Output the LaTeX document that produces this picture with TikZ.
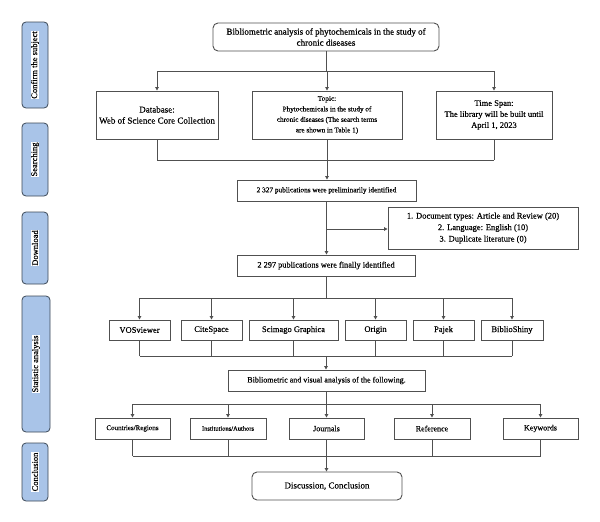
\documentclass[tikz,border=0pt]{standalone}
\usepackage{fontspec}
\setmainfont{Liberation Serif}[FakeBold=0.35]
\usetikzlibrary{arrows.meta}
\definecolor{sideblue}{HTML}{A9C4E8}
\definecolor{sideedge}{HTML}{3C4856}
\definecolor{linegray}{HTML}{505050}
\tikzset{
  box/.style={draw=linegray, line width=0.9pt, fill=white, inner sep=1pt, align=center, text=black},
  rbox/.style={box, rounded corners=5pt},
  side/.style={draw=sideedge, line width=0.8pt, fill=sideblue, rounded corners=4pt},
  sidetext/.style={fill=white, inner sep=0.6pt, rotate=90, font=\fontsize{8.5}{9}\selectfont},
  conn/.style={draw=linegray, line width=0.9pt},
  arr/.style={conn, -{Triangle[width=3.5pt,length=3.5pt]}},
}
\begin{document}
\begin{tikzpicture}[x=1pt,y=-1pt]
\useasboundingbox (0,0) rectangle (600,522);
% side labels
\node[side, minimum width=26pt, minimum height=86pt] (s1) at (35,65) {};
\node[sidetext] (t1) at (s1.center) {Confirm the subject};
\node[side, minimum width=26pt, minimum height=73pt] (s2) at (35,159.5) {};
\node[sidetext] (t2) at (s2.center) {Searching};
\node[side, minimum width=26pt, minimum height=72pt] (s3) at (35,248) {};
\node[sidetext] (t3) at (s3.center) {Download};
\node[side, minimum width=28pt, minimum height=136pt] (s4) at (36,364) {};
\node[sidetext] (t4) at (s4.center) {Statistic analysis};
\node[side, minimum width=26pt, minimum height=58pt] (s5) at (35,472) {};
\node[sidetext] (t5) at (s5.center) {Conclusion};

% title
\node[rbox, minimum width=226pt, minimum height=28pt, font=\fontsize{9}{11}\selectfont] (title) at (326,37)
  {Bibliometric analysis of phytochemicals in the study of\\chronic diseases};
% second row
\node[box, minimum width=122pt, minimum height=48pt, font=\fontsize{9}{11}\selectfont] (db) at (157,115)
  {Database:\\Web of Science Core Collection};
\node[box, minimum width=150pt, minimum height=48pt, font=\fontsize{7.2}{10.5}\selectfont] (topic) at (327,115)
  {Topic:\\Phytochemicals in the study of\\chronic diseases (The search terms\\are shown in Table 1)};
\node[box, minimum width=116pt, minimum height=48pt, font=\fontsize{8.5}{11}\selectfont] (ts) at (494,115)
  {Time Span:\\The library will be built until\\April 1, 2023};
% identified
\node[box, minimum width=179pt, minimum height=21pt, font=\fontsize{7.3}{9}\selectfont] (pre) at (326.5,190.5)
  {2 327 publications were preliminarily identified};
\node[box, minimum width=190pt, minimum height=42pt, font=\fontsize{8.5}{11.5}\selectfont] (excl) at (483,228)
  {1. Document types: Article and Review (20)\\2. Language: English (10)\\3. Duplicate literature (0)};
\node[box, minimum width=178pt, minimum height=21pt, font=\fontsize{8.3}{10}\selectfont] (fin) at (326,265.5)
  {2 297 publications were finally identified};
% tools
\tikzset{tool/.style={box, minimum width=61pt, minimum height=20pt, font=\fontsize{8.5}{10}\selectfont}}
\node[tool] (vos) at (139.5,330) {VOSviewer};
\node[tool] (cite) at (211.5,330) {CiteSpace};
\node[tool, minimum width=89pt] (sci) at (293.5,330) {Scimago Graphica};
\node[tool] (ori) at (375.5,330) {Origin};
\node[tool] (paj) at (443.5,330) {Pajek};
\node[tool, minimum width=62pt] (bib) at (512,330) {BiblioShiny};
% analysis
\node[box, minimum width=197pt, minimum height=21pt, font=\fontsize{8}{10}\selectfont] (ana) at (326.5,380.5)
  {Bibliometric and visual analysis of the following.};
% categories
\tikzset{cat/.style={box, minimum width=75pt, minimum height=21pt, font=\fontsize{8}{10}\selectfont}}
\node[cat, font=\fontsize{7}{9}\selectfont] (cou) at (132.5,428.5) {Countries/Regions};
\node[cat, minimum width=76pt, font=\fontsize{6.5}{9}\selectfont] (ins) at (228,428.5) {Institutions/Authors};
\node[cat] (jou) at (326.5,428.5) {Journals};
\node[cat, minimum width=76pt] (ref) at (432,428.5) {Reference};
\node[cat] (key) at (540.5,428.5) {Keywords};
% discussion
\node[rbox, minimum width=150pt, minimum height=28pt, font=\fontsize{9}{11}\selectfont] (disc) at (327,486)
  {Discussion, Conclusion};

% connectors
\coordinate (j1) at (326,71);
\draw[conn] (title.south) -- (title.south |- j1);
\draw[conn] (db.north |- j1) -- (ts.north |- j1);
\draw[arr] (db.north |- j1) -- (db.north);
\draw[arr] (topic.north |- j1) -- (topic.north);
\draw[arr] (ts.north |- j1) -- (ts.north);
\coordinate (j2) at (326,160);
\draw[conn] (db.south) -- (db.south |- j2);
\draw[conn] (ts.south) -- (ts.south |- j2);
\draw[conn] (db.south |- j2) -- (ts.south |- j2);
\draw[arr] (topic.south) -- (topic.south |- pre.north);
\coordinate (j3) at (326,229);
\draw[arr] (pre.south) -- (pre.south |- fin.north);
\draw[arr] (j3) -- (excl.west |- j3);
\coordinate (j4) at (326,298);
\draw[conn] (fin.south) -- (fin.south |- j4);
\draw[conn] (vos.north |- j4) -- (bib.north |- j4);
\foreach \n in {vos,cite,sci,ori,paj,bib}{\draw[arr] (\n.north |- j4) -- (\n.north);}
\coordinate (j5) at (326,356);
\foreach \n in {vos,cite,sci,ori,paj,bib}{\draw[conn] (\n.south) -- (\n.south |- j5);}
\draw[conn] (vos.south |- j5) -- (bib.south |- j5);
\draw[arr] (j5) -- (ana.north -| j5);
\coordinate (j6) at (326,404);
\draw[conn] (ana.south -| j6) -- (j6);
\draw[conn] (cou.north |- j6) -- (key.north |- j6);
\foreach \n in {cou,ins,jou,ref,key}{\draw[arr] (\n.north |- j6) -- (\n.north);}
\coordinate (j7) at (326,456);
\foreach \n in {cou,ins,jou,ref,key}{\draw[conn] (\n.south) -- (\n.south |- j7);}
\draw[conn] (cou.south |- j7) -- (key.south |- j7);
\draw[arr] (jou.south |- j7) -- (disc.north -| jou.south);
\end{tikzpicture}
\end{document}
